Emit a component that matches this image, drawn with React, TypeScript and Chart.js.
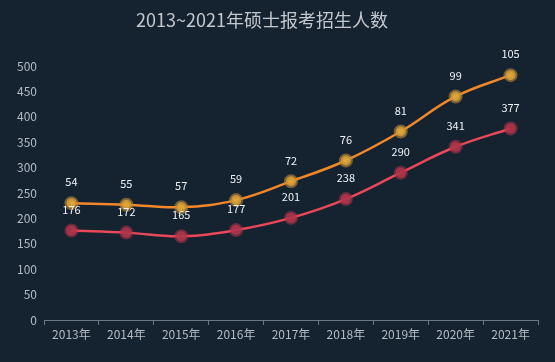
import React, { useEffect, useRef } from "react";
import { Chart, registerables } from "chart.js";

Chart.register(...registerables);

const title = "2013~2021年硕士报考招生人数";
const categories = ["2013年", "2014年", "2015年", "2016年", "2017年", "2018年", "2019年", "2020年", "2021年"];
const seriesA = [176, 172, 165, 177, 201, 238, 290, 341, 377];
const seriesB = [54, 55, 57, 59, 72, 76, 81, 99, 105];
const yTicks = [0, 50, 100, 150, 200, 250, 300, 350, 400, 450, 500];

const BG = "#152230";
const FONT = "'Noto Sans CJK SC', 'Noto Sans', sans-serif";

const bgPlugin = {
  id: "bg",
  beforeDraw(chart: any) {
    const { ctx, width, height } = chart;
    ctx.save();
    ctx.fillStyle = BG;
    ctx.fillRect(0, 0, width, height);
    ctx.restore();
  },
};

const titlePlugin = {
  id: "customTitle",
  afterDraw(chart: any) {
    const { ctx } = chart;
    ctx.save();
    ctx.font = `18px ${FONT}`;
    ctx.fillStyle = "#c3c8ce";
    ctx.textAlign = "center";
    ctx.textBaseline = "middle";
    ctx.fillText(title, 262, 20);
    ctx.restore();
  },
};

const labelPlugin = {
  id: "valueLabels",
  afterDatasetsDraw(chart: any) {
    const { ctx } = chart;
    ctx.save();
    ctx.font = `11px ${FONT}`;
    ctx.fillStyle = "#eef2f6";
    ctx.textAlign = "center";
    ctx.textBaseline = "middle";
    chart.data.datasets.forEach((ds: any, i: number) => {
      const meta = chart.getDatasetMeta(i);
      meta.data.forEach((pt: any, j: number) => {
        ctx.fillText(String(ds.data[j]), pt.x, pt.y - 21);
      });
    });
    ctx.restore();
  },
};

export default function App() {
  const ref = useRef<HTMLCanvasElement>(null);
  useEffect(() => {
    document.body.style.margin = "0";
    const chart = new Chart(ref.current!, {
      type: "line",
      data: {
        labels: categories,
        datasets: [
          {
            label: "A",
            data: seriesA,
            borderColor: "#e84857",
            borderWidth: 2.5,
            backgroundColor: "rgba(176,52,74,0.85)",
            pointBackgroundColor: "rgba(176,52,74,0.9)",
            pointBorderColor: "rgba(176,52,74,0.55)",
            pointBorderWidth: 4,
            pointRadius: 5,
            tension: 0.4,
            fill: false,
          },
          {
            label: "B",
            data: seriesB,
            borderColor: "#f2882a",
            borderWidth: 2.5,
            backgroundColor: "rgba(214,160,58,0.85)",
            pointBackgroundColor: "rgba(224,168,56,0.95)",
            pointBorderColor: "rgba(190,140,55,0.6)",
            pointBorderWidth: 4,
            pointRadius: 5,
            tension: 0.4,
            fill: false,
          },
        ],
      },
      options: {
        animation: false,
        responsive: false,
        layout: { padding: { top: 66, right: 17, left: 0, bottom: 0 } },
        plugins: {
          legend: { display: false },
          title: { display: false },
          tooltip: { enabled: false },
        },
        scales: {
          x: {
            offset: true,
            grid: {
              offset: true,
              drawOnChartArea: false,
              drawTicks: true,
              tickLength: 5,
              color: "#6b7783",
            },
            border: { display: true, color: "#6b7783", width: 1 },
            ticks: { color: "#b4bcc4", font: { size: 12, family: FONT }, padding: 2 },
            afterFit(scale: any) {
              scale.height = 42;
            },
          },
          y: {
            stacked: true,
            min: 0,
            max: 500,
            grid: { display: false, drawTicks: false },
            border: { display: false },
            afterBuildTicks(scale: any) {
              scale.ticks = yTicks.map((v) => ({ value: v }));
            },
            ticks: { color: "#b4bcc4", font: { size: 12, family: FONT }, padding: 7 },
            afterFit(scale: any) {
              scale.width = 44;
            },
          },
        },
      },
      plugins: [bgPlugin, titlePlugin, labelPlugin],
    });
    return () => chart.destroy();
  }, []);
  return (
    <div style={{ position: "fixed", left: 0, top: 0, width: 555, height: 362, background: BG }}>
      <canvas ref={ref} width={555} height={362} />
    </div>
  );
}
